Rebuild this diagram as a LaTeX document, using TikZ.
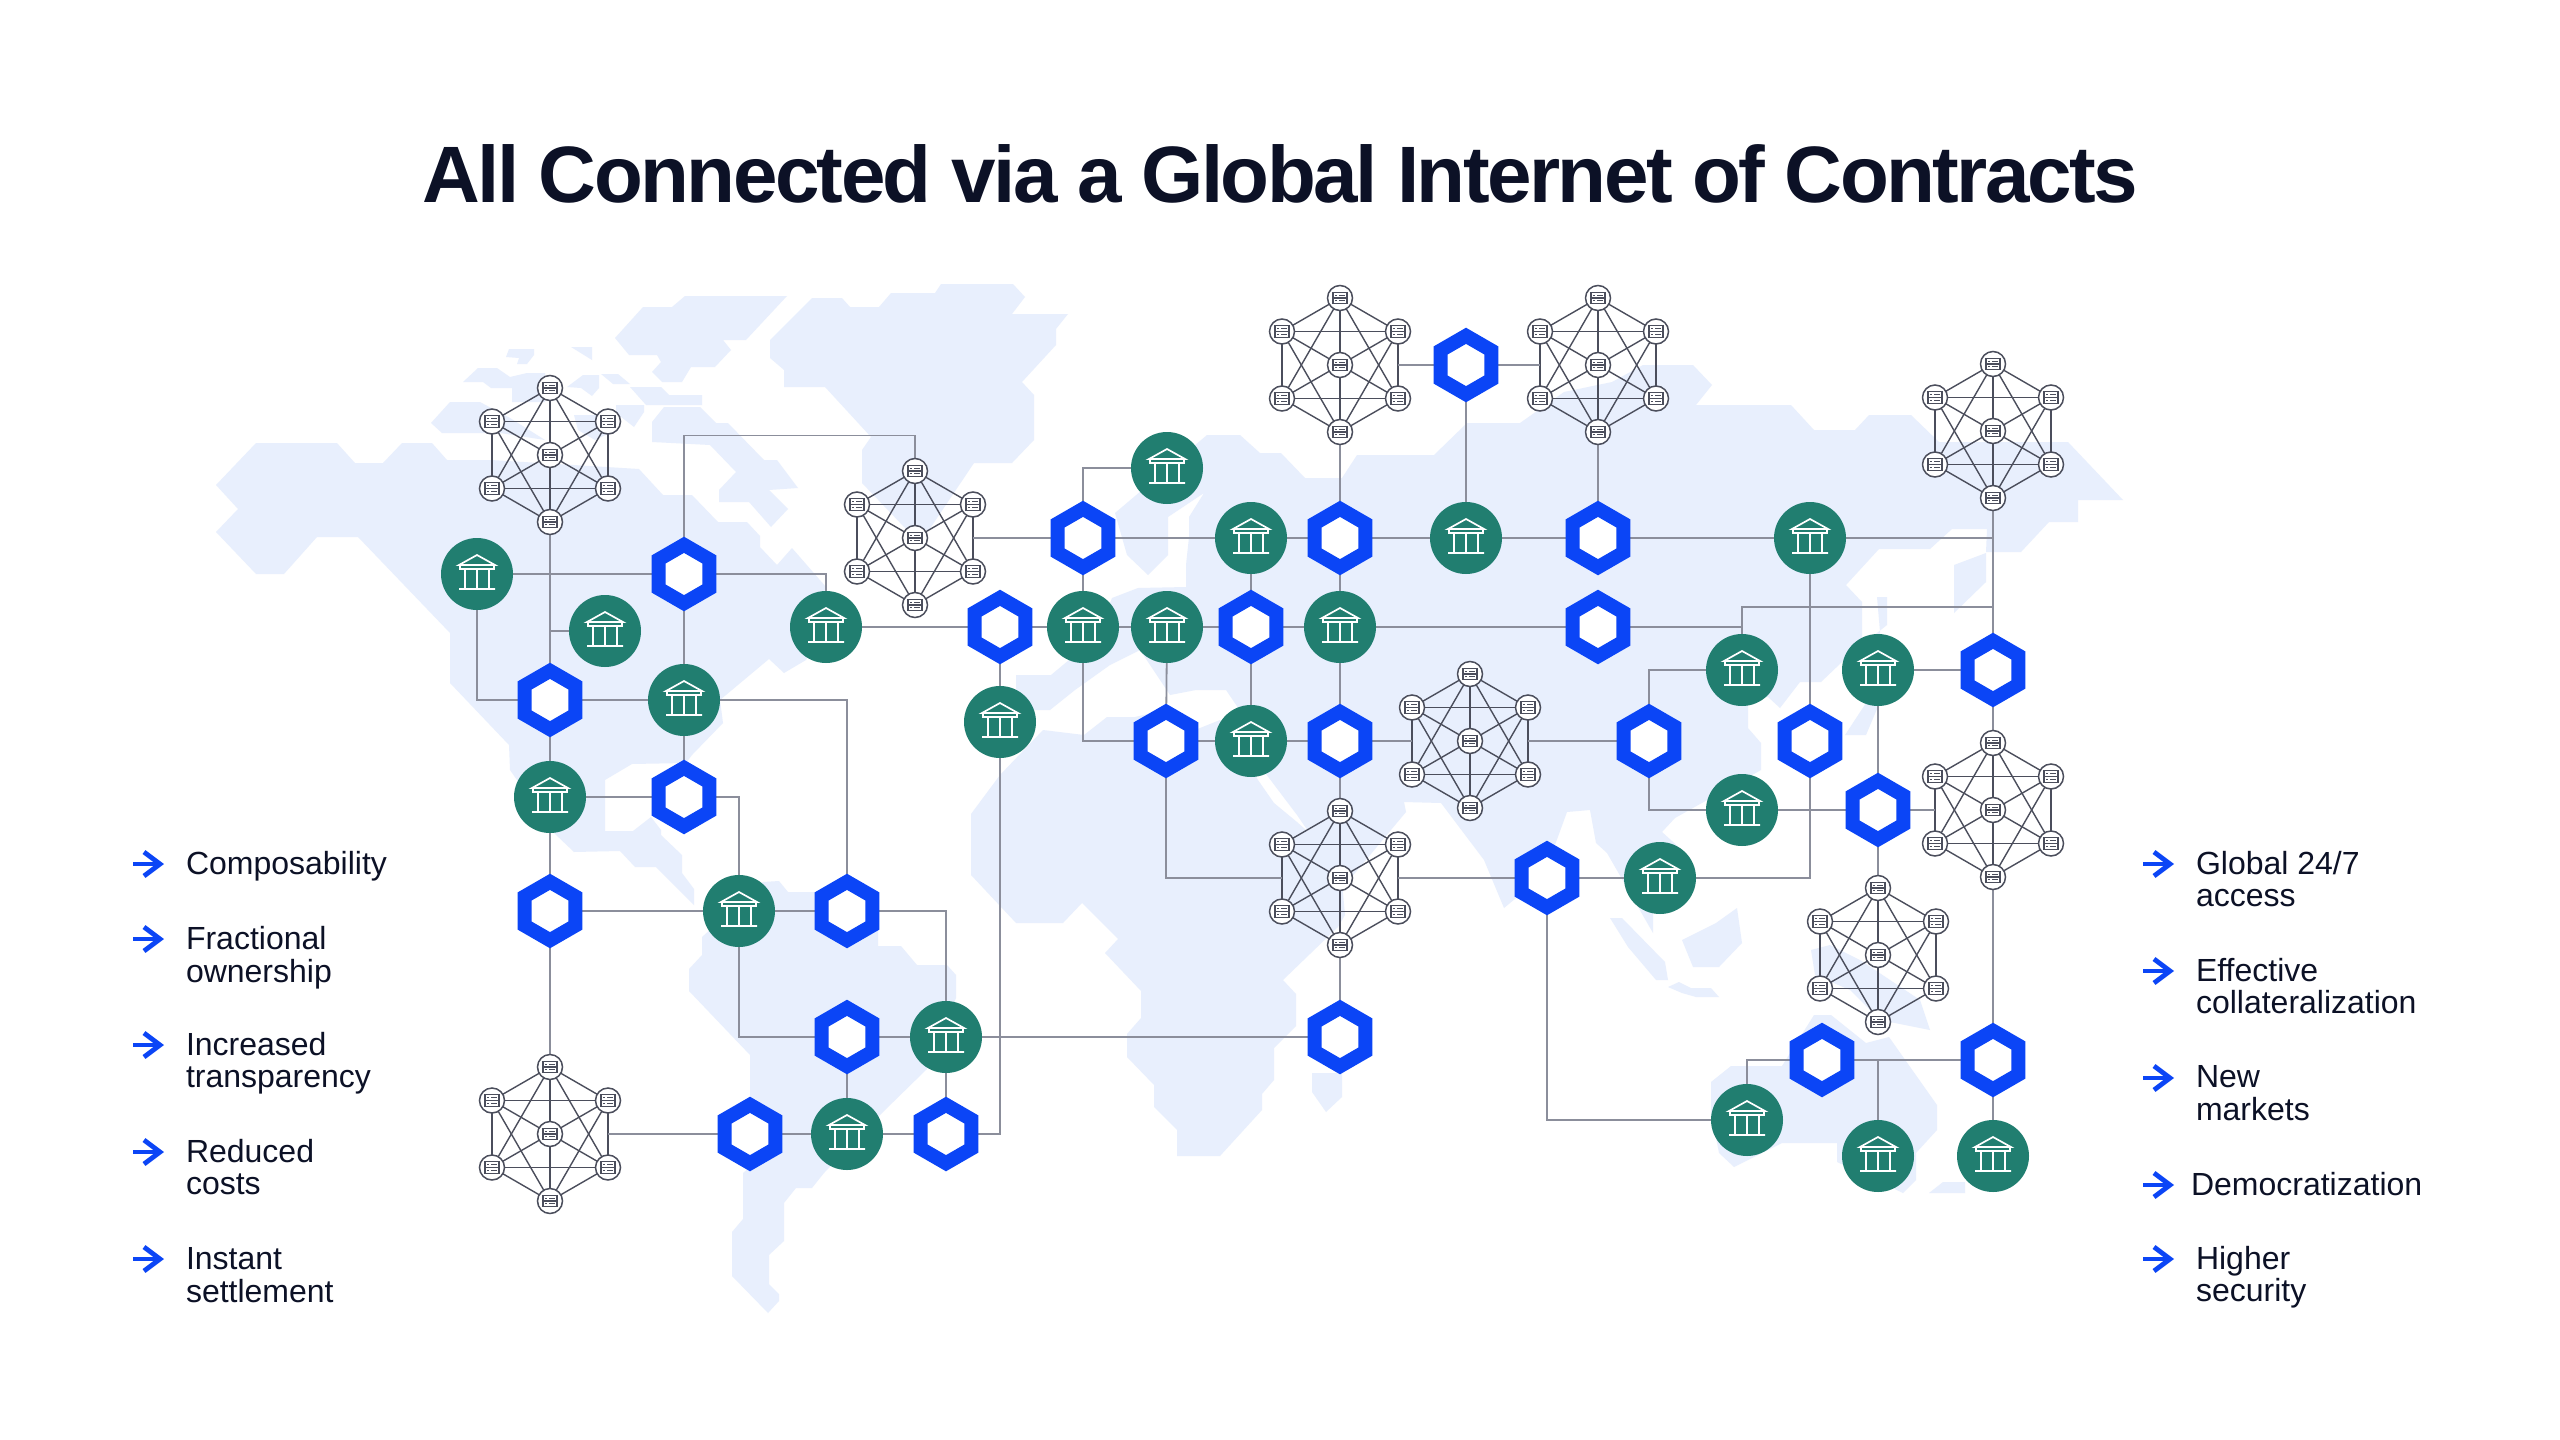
\documentclass[tikz,border=0pt]{standalone}
\usepackage{fontspec}
\setmainfont{Liberation Sans}
\newfontfamily\ttlfont[LetterSpace=-3.2]{Liberation Sans}
\usetikzlibrary{positioning,shapes.geometric,backgrounds,arrows.meta}

\definecolor{landblue}{HTML}{E8EFFD}
\definecolor{chainblue}{HTML}{0B45F6}
\definecolor{bankgreen}{HTML}{217E70}
\definecolor{wiregray}{HTML}{8B8E9B}
\definecolor{inkgray}{HTML}{4B4E5C}
\definecolor{titleink}{HTML}{0C1126}

% six servers round a centre node #1c
\newcommand{\ring}[1]{%
\node[srv] (#1t)  [on grid,above=33.5pt of #1c]                {};
\node[srv] (#1b)  [on grid,below=33.5pt of #1c]                {};
\node[srv] (#1ul) [on grid,above left=16.75pt and 29pt of #1c] {};
\node[srv] (#1ur) [on grid,above right=16.75pt and 29pt of #1c]{};
\node[srv] (#1ll) [on grid,below left=16.75pt and 29pt of #1c] {};
\node[srv] (#1lr) [on grid,below right=16.75pt and 29pt of #1c]{};
\begin{scope}[on background layer]
\foreach \s/\e in {c/t,c/b,c/ul,c/ur,c/ll,c/lr,t/ul,t/ur,t/ll,t/lr,b/ul,b/ur,b/ll,b/lr,ul/ur,ll/lr,ul/ll,ur/lr}
  \path[link] (#1\s) edge (#1\e);
\end{scope}}

\begin{document}
\begin{tikzpicture}
[x=.5pt,y=-.5pt,
 bank/.style={circle,fill=bankgreen,minimum size=36pt,inner sep=0pt,outer sep=0pt,
   path picture={\draw[white,line width=.85pt,shift={(path picture bounding box.center)}]
     (-18,-9) -- (0,-19) -- (18,-9) -- cycle
     (-17,-9) -- (-17,-5) -- (17,-5) -- (17,-9)
     (-12,-5) -- (-12,15) (0,-5) -- (0,15) (12,-5) -- (12,15)
     (-18,15) -- (18,15);}},
 hexa/.style={regular polygon,regular polygon sides=6,regular polygon rotate=30,
   draw=chainblue,fill=white,line width=7pt,minimum size=29.2pt,inner sep=0pt,outer sep=0pt},
 srv/.style={circle,draw=inkgray,fill=white,line width=.75pt,minimum size=12.5pt,inner sep=0pt,outer sep=0pt,
   path picture={\draw[inkgray,line width=.55pt,shift={(path picture bounding box.center)}]
     (-7,-5.7) rectangle (7,5.7) (-7,0) -- (7,0)
     (-5,-2.8) -- (-3.5,-2.8) (-1,-2.8) -- (4.5,-2.8)
     (-5,2.8) -- (-3.5,2.8) (-1,2.8) -- (4.5,2.8);}},
 wire/.style={wiregray,line width=.9pt},
 link/.style={inkgray,line width=.7pt},
 land/.style={fill=landblue},
 tip/.style={chainblue,line width=2.4pt,-{Straight Barb[length=8pt,width=12pt,line width=2.4pt]}},
 lab/.style={anchor=north west,inner sep=0pt,outer sep=0pt,align=left,text=titleink,
   font=\fontsize{16}{16.25}\selectfont,execute at begin node=\strut},
 ttl/.style={anchor=base,inner sep=0pt,text=titleink,font=\fontsize{40}{48}\ttlfont\bfseries}]

\useasboundingbox (0,0) rectangle (2560,1440);

% map
\begin{scope}[on background layer]
\fill[white] (0,0) rectangle (2560,1440);
% north america
\fill[land] (216,485) -- (256,443) -- (337,443) -- (355,463) -- (383,463) -- (402,443) -- (432,443) -- (447,460)
  -- (491,460) -- (639,469) -- (663,495) -- (692,495) -- (718,522) -- (747,522) -- (760,536) -- (760,547)
  -- (777,565) -- (792,548) -- (826,587) -- (828,620) -- (806,660) -- (784,673) -- (769,659) -- (720,700)
  -- (723,723) -- (692,755) -- (686,763) -- (632,764) -- (605,780) -- (605,831) -- (633,831) -- (651,817)
  -- (661,830) -- (661,835) -- (682,855) -- (682,873) -- (694,889) -- (694,905) -- (656,867) -- (635,867)
  -- (620,851) -- (574,852) -- (554,833) -- (510,770) -- (509,745) -- (450,683) -- (450,633) -- (358,537)
  -- (317,537) -- (284,574) -- (256,574) -- (216,532) -- (238,509) -- cycle;
% greenland
\fill[land] (812,298) -- (842,298) -- (850,307) -- (879,307) -- (891,293) -- (935,293) -- (941,284) -- (1013,284)
  -- (1025,297) -- (1012,314) -- (1068,314) -- (1056,329) -- (1056,345) -- (1022,382) -- (1034,395)
  -- (1034,440) -- (1012,463) -- (974,463) -- (929,530) -- (905,528) -- (862,483) -- (862,450) -- (871,437)
  -- (825,387) -- (784,387) -- (784,370) -- (770,358) -- (770,340) -- cycle;
% arctic islands
\fill[land] (685,296) -- (787,296) -- (746,340) -- (723,340) -- (731,350) -- (715,367) -- (691,367) -- (682,382)
  -- (662,382) -- (652,372) -- (661,362) -- (657,355) -- (629,355) -- (615,338) -- (643,307) -- (672,307) -- cycle;
\fill[land] (509,349) -- (534,349) -- (534,355) -- (527,364) -- (517,364) -- (519,358) -- (506,357) -- cycle;
\fill[land] (571,347) -- (592,347) -- (592,360) -- cycle;
\fill[land] (463,382) -- (478,368) -- (497,368) -- (510,377) -- (527,373) -- (545,373) -- (545,402) -- (512,402)
  -- (512,388) -- (491,388) -- (483,382) -- cycle;
\fill[land] (567,387) -- (583,375) -- (599,375) -- (599,388) -- (592,396) -- (581,388) -- cycle;
\fill[land] (601,374) -- (618,374) -- (630,384) -- (613,384) -- cycle;
\fill[land] (630,387) -- (661,387) -- (669,395) -- (702,395) -- (702,405) -- (646,405) -- cycle;
\fill[land] (616,405) -- (644,405) -- (644,412) -- (634,427) -- (616,413) -- cycle;
\fill[land] (431,423) -- (450,402) -- (480,402) -- (510,418) -- (545,440) -- (500,433) -- (442,433) -- cycle;
\fill[land] (574,415) -- (600,415) -- (612,432) -- (595,440) -- (578,430) -- cycle;
\fill[land] (652,422) -- (664,407) -- (700,407) -- (716,423) -- (728,423) -- (764,460) -- (777,460) -- (798,488)
  -- (769,490) -- (788,509) -- (771,527) -- (749,502) -- (719,502) -- (719,490) -- (736,472) -- (710,445)
  -- (652,442) -- cycle;
% south america
\fill[land] (689,969) -- (702,955) -- (702,937) -- (763,882) -- (779,881) -- (788,892) -- (814,892) -- (878,928)
  -- (878,946) -- (901,946) -- (917,965) -- (947,965) -- (956,975) -- (956,998) -- (927,1069) -- (883,1112)
  -- (824,1173) -- (812,1188) -- (796,1188) -- (784,1203) -- (784,1241) -- (769,1255) -- (769,1284)
  -- (779,1294) -- (779,1301) -- (768,1313) -- (732,1276) -- (732,1232) -- (743,1219) -- (743,1173)
  -- (750,1167) -- (750,1055) -- (689,991) -- cycle;
% africa
\fill[land] (971,814) -- (1000,775) -- (1043,730) -- (1084,735) -- (1107,717) -- (1135,717) -- (1165,710)
  -- (1195,730) -- (1220,720) -- (1235,740) -- (1258,780) -- (1274,803) -- (1297,822) -- (1340,860) -- (1345,915)
  -- (1338,927) -- (1283,980) -- (1296,994) -- (1296,1026) -- (1274,1048) -- (1274,1080) -- (1262,1094)
  -- (1262,1110) -- (1220,1156) -- (1177,1156) -- (1177,1130) -- (1154,1107) -- (1154,1085) -- (1127,1057)
  -- (1127,1034) -- (1141,1018) -- (1141,991) -- (1105,953) -- (1118,939) -- (1082,903) -- (1063,923)
  -- (1016,923) -- (971,875) -- cycle;
\fill[land] (1312,1073) -- (1342,1073) -- (1342,1097) -- (1326,1112) -- (1312,1092) -- cycle;
% eurasia
\fill[land] (1297,815) -- (1345,885) -- (1406,812) -- (1404,802) -- (1441,803) -- (1484,860) -- (1504,908)
  -- (1544,875) -- (1567,812) -- (1590,810) -- (1596,843) -- (1607,853) -- (1653,933) -- (1653,890)
  -- (1682,850) -- (1662,832) -- (1675,818) -- (1761,770) -- (1761,743) -- (1748,728) -- (1748,697)
  -- (1768,697) -- (1780,708) -- (1800,682) -- (1821,682) -- (1862,643) -- (1862,602) -- (1846,585)
  -- (1879,549) -- (1930,549) -- (1952,529) -- (1987,529) -- (1986,552) -- (2021,552) -- (2049,522)
  -- (2078,522) -- (2078,500) -- (2123,500) -- (2068,442) -- (1939,442) -- (1911,415) -- (1869,415)
  -- (1855,430) -- (1814,430) -- (1791,405) -- (1696,405) -- (1712,385) -- (1693,365) -- (1643,365)
  -- (1612,382) -- (1564,392) -- (1520,423) -- (1467,423) -- (1434,455) -- (1357,455) -- (1342,478)
  -- (1305,478) -- (1281,453) -- (1260,453) -- (1240,435) -- (1207,435) -- (1115,513) -- (1127,555)
  -- (1148,575) -- (1168,555) -- (1168,517) -- (1204,493) -- (1189,517) -- (1189,537) -- (1186,565)
  -- (1186,587) -- (1138,588) -- (1112,598) -- (1095,640) -- (1069,660) -- (1051,675) -- (1016,675)
  -- (1016,710) -- (1050,710) -- (1075,690) -- (1110,665) -- (1140,650) -- (1170,695) -- (1196,690)
  -- (1226,690) -- (1245,718) -- (1263,770) -- cycle;
\fill[land] (1954,565) -- (1986,553) -- (1986,582) -- (1954,613) -- cycle;
\fill[land] (1877,597) -- (1887,597) -- (1887,625) -- (1862,645) -- (1868,700) -- (1845,735) -- (1866,735) -- (1885,690) -- cycle;
% islands and australia
\fill[land] (1610,918) -- (1622,918) -- (1665,962) -- (1668,980) -- (1656,980) -- (1628,947) -- cycle;
\fill[land] (1668,987) -- (1679,982) -- (1691,988) -- (1711,988) -- (1719,997) -- (1696,997) -- (1682,993) -- cycle;
\fill[land] (1737,908) -- (1742,943) -- (1719,967) -- (1693,967) -- (1682,940) -- (1716,923) -- cycle;
\fill[land] (1811,950) -- (1830,945) -- (1860,960) -- (1920,1000) -- (1930,1030) -- (1880,1020) -- (1850,990) -- (1815,975) -- cycle;
\fill[land] (1711,1082) -- (1731,1066) -- (1782,1066) -- (1814,1015) -- (1831,1015) -- (1866,1043) -- (1889,1037)
  -- (1937,1105) -- (1937,1130) -- (1916,1153) -- (1916,1180) -- (1903,1193) -- (1837,1162) -- (1837,1143)
  -- (1782,1143) -- (1734,1167) -- (1719,1153) -- (1711,1113) -- cycle;
\fill[land] (1929,1193) -- (1943,1182) -- (1965,1182) -- (1965,1193) -- cycle;
\end{scope}

\node[ttl] (Title) at (1280,202) {All Connected via a Global Internet of Contracts};

% west
\node[bank] (B1)  at (477,574)                               {};
\node[hexa] (H1)  [on grid,right=103.5pt of B1]              {};
\node[srv]  (N1c) [on grid,above right=59.5pt and 36.5pt of B1] {};
\ring{N1}
\node[hexa] (H2)  [on grid,below right=63pt and 36.5pt of B1] {};
\node[bank] (B3)  [on grid,right=67pt of H2]                 {};
\node[bank] (B2)  [on grid,above right=34.5pt and 27.5pt of H2] {};
\node[bank] (B5)  [on grid,below right=26.5pt and 71pt of H1] {};
\node[hexa] (H4)  [on grid,right=87pt of B5]                 {};
\node[bank] (B7)  [on grid,right=41.5pt of H4]               {};
\node[bank] (B6)  [on grid,below=47.5pt of H4]               {};
\node[bank] (B4)  [on grid,below=48.5pt of H2]               {};
\node[hexa] (H3)  [on grid,right=67pt of B4]                 {};
\node[hexa] (H7)  [on grid,below=57pt of B4]                 {};
\node[bank] (B8)  [on grid,right=94.5pt of H7]               {};
\node[hexa] (H6)  [on grid,right=54pt of B8]                 {};
\node[srv]  (N3c) [on grid,below=111.5pt of H7]              {};
\ring{N3}
\node[hexa] (H9)  [on grid,right=100pt of N3c]               {};
\node[bank] (B10) [on grid,right=48.5pt of H9]               {};
\node[hexa] (H10) [on grid,right=49.5pt of B10]              {};
\node[hexa] (H8)  [on grid,above=48.5pt of B10]              {};
\node[bank] (B9)  [on grid,right=49.5pt of H8]               {};

% centre
\node[hexa] (H11) [on grid,right=197pt of B9]                {};
\node[srv]  (N9c) [on grid,above=79.5pt of H11]              {};
\ring{N9}
\node[hexa] (H18) [on grid,above=68.5pt of N9c]              {};
\node[bank] (B16) [on grid,above=57pt of H18]                {};
\node[hexa] (H13) [on grid,above=44.5pt of B16]              {};
\node[srv]  (N4c) [on grid,above=86.5pt of H13]              {};
\ring{N4}
\node[hexa] (H12) [on grid,right=63pt of N4c]                {};
\node[srv]  (N5c) [on grid,right=66pt of H12]                {};
\ring{N5}
\node[bank] (B13) [on grid,right=63pt of H13]                {};
\node[hexa] (H14) [on grid,right=66pt of B13]                {};
\node[bank] (B14) [on grid,right=106pt of H14]               {};
\node[hexa] (H16) [on grid,right=129pt of B16]               {};
\node[bank] (B12) [on grid,left=44.5pt of H13]               {};
\node[hexa] (H5)  [on grid,left=84pt of B12]                 {};
\node[srv]  (N2c) [on grid,left=84pt of H5]                  {};
\ring{N2}
\node[bank] (B11) [on grid,above right=35pt and 42pt of H5]  {};
\node[hexa] (H15) [on grid,left=44.5pt of B16]               {};
\node[bank] (B15) [on grid,left=42pt of H15]                 {};
\node[bank] (B17) [on grid,left=44.5pt of H18]               {};
\node[hexa] (H17) [on grid,left=42.5pt of B17]               {};
\node[srv]  (N6c) [on grid,right=65pt of H18]                {};
\ring{N6}

% east
\node[hexa] (H19) [on grid,right=89.5pt of N6c]              {};
\node[hexa] (H22) [on grid,right=80.5pt of H19]              {};
\node[bank] (B18) [on grid,above right=35.5pt and 46.5pt of H19] {};
\node[bank] (B19) [on grid,right=68pt of B18]                {};
\node[hexa] (H21) [on grid,right=57.5pt of B19]              {};
\node[srv]  (N7c) [on grid,above=119.5pt of H21]             {};
\ring{N7}
\node[bank] (B20) [on grid,below=70pt of B18]                {};
\node[hexa] (H23) [on grid,right=68pt of B20]                {};
\node[srv]  (N8c) [on grid,right=57.5pt of H23]              {};
\ring{N8}
\node[srv]  (N10c) [on grid,below=72.5pt of H23]             {};
\ring{N10}
\node[bank] (B21) [on grid,below left=68.5pt and 75pt of H22] {};
\node[hexa] (H24) [on grid,left=56.5pt of B21]               {};
\node[hexa] (H26) [on grid,below=125pt of N8c]               {};
\node[hexa] (H25) [on grid,left=85.5pt of H26]               {};
\node[bank] (B24) [on grid,below=48pt of H26]                {};
\node[bank] (B23) [on grid,left=57.5pt of B24]               {};
\node[bank] (B22) [on grid,below left=30pt and 37.5pt of H25] {};

\coordinate[on grid,above=17.75pt of N2t] (J1);
\coordinate[on grid,above right=31.5pt and 125.5pt of B18] (J2);

\begin{scope}[on background layer]
% west
\path[wire] (B1)  edge (H1);
\draw[wire] (H1)  -| (B5);
\path[wire] (N1b) edge (H2);
\path[wire] (B2)  edge (N1b |- B2);
\draw[wire] (B1)  |- (H2);
\path[wire] (H2)  edge (B3);
\draw[wire] (B3)  -| (H6);
\path[wire] (H1)  edge (B3);
\path[wire] (B3)  edge (H3);
\path[wire] (H2)  edge (B4);
\path[wire] (B4)  edge (H3);
\draw[wire] (H3)  -| (B8);
\path[wire] (B4)  edge (H7);
\path[wire] (H7)  edge (B8);
\path[wire] (B8)  edge (H6);
\draw[wire] (H6)  -| (B9);
\draw[wire] (B8)  |- (H8);
\path[wire] (H8)  edge (B9);
\path[wire] (H8)  edge (B10);
\path[wire] (H7)  edge (N3t);
\path[wire] (N3ur |- N3c) edge (H9);
\path[wire] (H9)  edge (B10);
\path[wire] (B10) edge (H10);
\path[wire] (B9)  edge (H10);
\draw[wire] (H10) -| (B6);
\path[wire] (B6)  edge (H4);
\path[wire] (B5)  edge (H4);
\path[wire] (H4)  edge (B7);
\draw[wire] (H1)  |- (J1) -- (N2t);
\path[wire] (N2ur |- N2c) edge (H5);
% centre
\path[wire] (B9)  edge (H11);
\path[wire] (N9b) edge (H11);
\path[wire] (H5)  edge (B7);
\draw[wire] (H5)  |- (B11);
\path[wire] (H5)  edge (B12);
\path[wire] (B12) edge (H13);
\path[wire] (H13) edge (B13);
\path[wire] (B13) edge (H14);
\path[wire] (H14) edge (B14);
\path[wire] (N4ur |- N4c) edge (H12);
\path[wire] (H12) edge (N5ul |- N5c);
\path[wire] (H12) edge (B13);
\path[wire] (N4b) edge (H13);
\path[wire] (N5b) edge (H14);
\path[wire] (B12) edge (H15);
\path[wire] (H13) edge (B16);
\path[wire] (B16) edge (H18);
\path[wire] (H18) edge (N9t);
\path[wire] (H18) edge (N6ul |- N6c);
\path[wire] (N6ur |- N6c) edge (H19);
\path[wire] (B7)  edge (B15);
\path[wire] (B15) edge (H15);
\path[wire] (H15) edge (B16);
\path[wire] (B16) edge (H16);
\draw[wire] (B7)  |- (H17);
\path[wire] (B15) edge (H17);
\path[wire] (H15) edge (B17);
\path[wire] (H17) edge (B17);
\path[wire] (B17) edge (H18);
\draw[wire] (H17) |- (N9ul |- N9c);
\path[wire] (N9ur |- N9c) edge (H24);
% east
\path[wire] (B14) edge (N7b |- B14);
\path[wire] (N7b) edge (H21);
\path[wire] (H21) edge (B19);
\path[wire] (B19) edge (H23);
\path[wire] (H21) edge (N8t);
\draw[wire] (B18) |- (J2);
\draw[wire] (H16) -| (B18);
\draw[wire] (B18) -| (H19);
\draw[wire] (H19) |- (B20);
\path[wire] (B20) edge (H23);
\path[wire] (H23) edge (N8ul |- N8c);
\path[wire] (H23) edge (N10t);
\path[wire] (B14) edge (H22);
\draw[wire] (B21) -| (H22);
\path[wire] (H24) edge (B21);
\draw[wire] (H24) |- (B22);
\draw[wire] (B22) |- (H25);
\path[wire] (H25) edge (H26);
\path[wire] (B23) edge (B23 |- H25);
\path[wire] (H26) edge (N8b);
\path[wire] (H26) edge (B24);
\end{scope}

% left list
\coordinate (Aa) at (133,864);  \coordinate (Ae) at (164,864);
\coordinate (Ba) at (133,939);  \coordinate (Be) at (164,939);
\coordinate (Ca) at (133,1045); \coordinate (Ce) at (164,1045);
\coordinate (Da) at (133,1152); \coordinate (De) at (164,1152);
\coordinate (Ea) at (133,1259); \coordinate (Ee) at (164,1259);
\path[tip] (Aa) edge (Ae);
\path[tip] (Ba) edge (Be);
\path[tip] (Ca) edge (Ce);
\path[tip] (Da) edge (De);
\path[tip] (Ea) edge (Ee);
\node[lab] (La) at (186,851)  {Composability};
\node[lab] (Lb) at (186,926.5)  {Fractional\\ownership};
\node[lab] (Lc) at (186,1032) {Increased\\transparency};
\node[lab] (Ld) at (186,1139) {Reduced\\costs};
\node[lab] (Le) at (186,1247.5) {Instant\\settlement};

% right list
\coordinate (Fa) at (2143,864);  \coordinate (Fe) at (2174,864);
\coordinate (Ga) at (2143,971);  \coordinate (Ge) at (2174,971);
\coordinate (Ha) at (2143,1078); \coordinate (He) at (2174,1078);
\coordinate (Ia) at (2143,1185); \coordinate (Ie) at (2174,1185);
\coordinate (Ja) at (2143,1259); \coordinate (Je) at (2174,1259);
\path[tip] (Fa) edge (Fe);
\path[tip] (Ga) edge (Ge);
\path[tip] (Ha) edge (He);
\path[tip] (Ia) edge (Ie);
\path[tip] (Ja) edge (Je);
\node[lab] (Lf) at (2196,851)  {Global 24/7\\access};
\node[lab] (Lg) at (2196,958)  {Effective\\collateralization};
\node[lab] (Lh) at (2196,1065.5) {New\\markets};
\node[lab] (Li) at (2191,1172.5) {Democratization};
\node[lab] (Lj) at (2196,1246) {Higher\\security};

\end{tikzpicture}
\end{document}
